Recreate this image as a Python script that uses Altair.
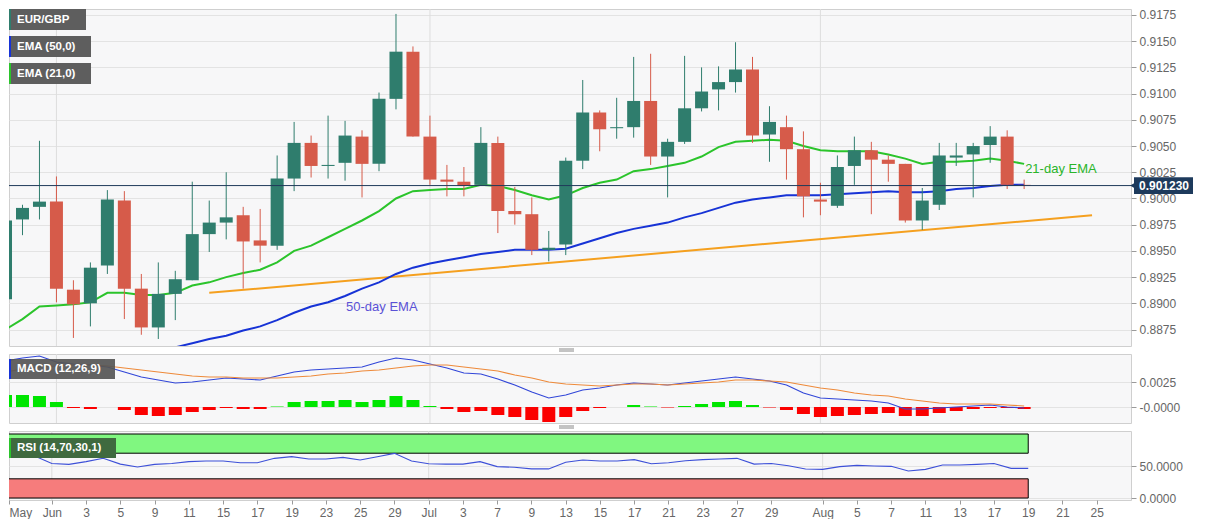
import altair as alt
import pandas as pd

# ---------------- data ----------------
dates = ["2020-05-27", "2020-05-28", "2020-05-29",
         "2020-06-01", "2020-06-02", "2020-06-03", "2020-06-04", "2020-06-05",
         "2020-06-08", "2020-06-09", "2020-06-10", "2020-06-11", "2020-06-12",
         "2020-06-15", "2020-06-16", "2020-06-17", "2020-06-18", "2020-06-19",
         "2020-06-22", "2020-06-23", "2020-06-24", "2020-06-25", "2020-06-26",
         "2020-06-29", "2020-06-30", "2020-07-01", "2020-07-02", "2020-07-03",
         "2020-07-06", "2020-07-07", "2020-07-08", "2020-07-09", "2020-07-10",
         "2020-07-13", "2020-07-14", "2020-07-15", "2020-07-16", "2020-07-17",
         "2020-07-20", "2020-07-21", "2020-07-22", "2020-07-23", "2020-07-24",
         "2020-07-27", "2020-07-28", "2020-07-29", "2020-07-30", "2020-07-31",
         "2020-08-03", "2020-08-04", "2020-08-05", "2020-08-06", "2020-08-07",
         "2020-08-10", "2020-08-11", "2020-08-12", "2020-08-13", "2020-08-14",
         "2020-08-17", "2020-08-18", "2020-08-19"]

opens = [0.8904, 0.8980, 0.8992, 0.8997, 0.8913, 0.8900, 0.8936, 0.8998, 0.8914, 0.8877,
         0.8909, 0.8922, 0.8966, 0.8977, 0.8984, 0.8960, 0.8955, 0.9019, 0.9053, 0.9031,
         0.9034, 0.9059, 0.9033, 0.9095, 0.9140, 0.9059, 0.9018, 0.9016, 0.9013, 0.9053,
         0.8988, 0.8985, 0.8951, 0.8956, 0.9036, 0.9082, 0.9067, 0.9068, 0.9093, 0.9040,
         0.9054, 0.9086, 0.9104, 0.9111, 0.9123, 0.9061, 0.9068, 0.9047, 0.8999, 0.8993,
         0.9031, 0.9046, 0.9037, 0.9033, 0.8979, 0.8994, 0.9039, 0.9042, 0.9051, 0.9059,
         0.9013]
highs = [0.8985, 0.8994, 0.9055, 0.9021, 0.8922, 0.8939, 0.9008, 0.9007, 0.8928, 0.8939,
         0.8931, 0.9016, 0.8998, 0.9025, 0.8992, 0.8990, 0.9041, 0.9073, 0.9060, 0.9079,
         0.9074, 0.9065, 0.9101, 0.9176, 0.9145, 0.9079, 0.9032, 0.9030, 0.9068, 0.9059,
         0.9011, 0.9001, 0.8969, 0.9039, 0.9113, 0.9084, 0.9096, 0.9135, 0.9138, 0.9057,
         0.9136, 0.9125, 0.9126, 0.9149, 0.9135, 0.9088, 0.9079, 0.9064, 0.9015, 0.9041,
         0.9059, 0.9054, 0.9041, 0.9033, 0.9010, 0.9053, 0.9053, 0.9053, 0.9069, 0.9065,
         0.9018]
lows = [0.8898, 0.8965, 0.8980, 0.8901, 0.8867, 0.8878, 0.8928, 0.8885, 0.8870, 0.8866,
        0.8884, 0.8922, 0.8949, 0.8961, 0.8914, 0.8939, 0.8951, 0.9007, 0.9020, 0.9019,
        0.9017, 0.9001, 0.9026, 0.9085, 0.9059, 0.9013, 0.9002, 0.9002, 0.9012, 0.8967,
        0.8975, 0.8946, 0.8940, 0.8946, 0.9028, 0.9045, 0.9057, 0.9058, 0.9032, 0.9001,
        0.9052, 0.9083, 0.9084, 0.9101, 0.9053, 0.9035, 0.9018, 0.8982, 0.8984, 0.8991,
        0.9013, 0.8985, 0.9016, 0.8977, 0.8970, 0.8989, 0.9031, 0.9001, 0.9034, 0.9009,
        0.9009]
closes = [0.8979, 0.8991, 0.8997, 0.8914, 0.8899, 0.8934, 0.8999, 0.8914, 0.8877, 0.8909,
          0.8923, 0.8966, 0.8977, 0.8982, 0.8959, 0.8955, 0.9019, 0.9053, 0.9031, 0.9032,
          0.9060, 0.9033, 0.9095, 0.9140, 0.9059, 0.9018, 0.9016, 0.9012, 0.9053, 0.8988,
          0.8985, 0.8951, 0.8953, 0.9036, 0.9082, 0.9066, 0.9068, 0.9093, 0.9040, 0.9054,
          0.9086, 0.9102, 0.9111, 0.9123, 0.9060, 0.9073, 0.9047, 0.9002, 0.8997, 0.9030,
          0.9046, 0.9037, 0.9033, 0.8979, 0.8998, 0.9041, 0.9041, 0.9050, 0.9059, 0.9013,
          0.90123]
ema21 = [0.8875, 0.8885, 0.8897, 0.8898, 0.8899, 0.8901, 0.8910, 0.8910, 0.8908, 0.8908,
         0.8910, 0.8917, 0.8920, 0.8925, 0.8929, 0.8932, 0.8939, 0.8950, 0.8955, 0.8963,
         0.8971, 0.8979, 0.8988, 0.9000, 0.9007, 0.9008, 0.9009, 0.9009, 0.9013, 0.9012,
         0.9008, 0.9003, 0.8999, 0.9003, 0.9010, 0.9015, 0.9018, 0.9026, 0.9028, 0.9031,
         0.9034, 0.9040, 0.9049, 0.9054, 0.9055, 0.9056, 0.9055, 0.9050, 0.9046, 0.9045,
         0.9045, 0.9045, 0.9042, 0.9038, 0.9033, 0.9035, 0.9035, 0.9036, 0.9038, 0.9036,
         0.9033]
ema50 = [None, None, None, None, None, None, None, None, None, 0.8854,
         0.8858, 0.8862, 0.8866, 0.8869, 0.8874, 0.8878, 0.8884, 0.8891, 0.8897, 0.8901,
         0.8907, 0.8914, 0.8920, 0.8928, 0.8934, 0.8938, 0.8941, 0.8944, 0.8947, 0.8949,
         0.8951, 0.8951, 0.8951, 0.8952, 0.8957, 0.8962, 0.8967, 0.8971, 0.8974, 0.8977,
         0.8982, 0.8986, 0.8991, 0.8996, 0.8999, 0.9001, 0.9003, 0.9003, 0.9003, 0.9004,
         0.9005, 0.9006, 0.9007, 0.9006, 0.9006, 0.9007, 0.9009, 0.9010, 0.9012, 0.9013,
         0.9013]
macd = [0.0046, 0.0049, 0.0051, 0.0045, 0.0043, 0.0042, 0.0040, 0.0035, 0.0030, 0.0027,
        0.0024, 0.0025, 0.0027, 0.0029, 0.0028, 0.0027, 0.0031, 0.0035, 0.0037, 0.0038,
        0.0039, 0.0040, 0.0045, 0.0049, 0.0047, 0.0043, 0.0039, 0.0034, 0.0033, 0.0028,
        0.0022, 0.0015, 0.0009, 0.0012, 0.0017, 0.0019, 0.0022, 0.0024, 0.0023, 0.0022,
        0.0024, 0.0026, 0.0028, 0.0030, 0.0028, 0.0026, 0.0022, 0.0014, 0.0009, 0.0008,
        0.0007, 0.0006, 0.0004, -0.0002, -0.0002, -0.0001, 0.0000, 0.0001, 0.0002, 0.0000,
        -0.0001]
signal = [0.0035, 0.0038, 0.0040, 0.0041, 0.0042, 0.0042, 0.0041, 0.0039, 0.0037, 0.0035,
          0.0033, 0.0031, 0.0030, 0.0030, 0.0029, 0.0029, 0.0029, 0.0030, 0.0031, 0.0033,
          0.0034, 0.0036, 0.0037, 0.0039, 0.0041, 0.0042, 0.0042, 0.0040, 0.0038, 0.0036,
          0.0032, 0.0029, 0.0025, 0.0023, 0.0022, 0.0021, 0.0022, 0.0023, 0.0023, 0.0022,
          0.0023, 0.0024, 0.0025, 0.0027, 0.0027, 0.0026, 0.0025, 0.0022, 0.0019, 0.0017,
          0.0014, 0.0012, 0.0011, 0.0008, 0.0006, 0.0004, 0.0003, 0.0003, 0.0003, 0.0002,
          0.0001]
hist = [0.0012, 0.0012, 0.0011, 0.0005, -0.0001, -0.0002, 0.0000, -0.0003, -0.0008, -0.0009,
        -0.0008, -0.0005, -0.0003, -0.0001, -0.0002, -0.0002, 0.00005, 0.0005, 0.0006, 0.0006,
        0.0007, 0.0005, 0.0007, 0.0011, 0.0007, 0.0001, -0.0002, -0.0005, -0.0004, -0.0008,
        -0.0010, -0.0013, -0.0015, -0.0010, -0.0004, -0.0001, 0.0000, 0.0002, 0.00005, -0.00005,
        0.0001, 0.0003, 0.0005, 0.0006, 0.0002, -0.00005, -0.0003, -0.0007, -0.0010, -0.0009,
        -0.0008, -0.0007, -0.0006, -0.0009, -0.0009, -0.0006, -0.0004, -0.0002, -0.0001, -0.0001,
        -0.0002]
rsi = [63.0, 65.0, 65.6, 54.0, 52.6, 56.8, 62.0, 53.0, 48.4, 52.6,
       54.0, 56.8, 57.8, 57.8, 55.0, 55.0, 62.0, 64.6, 61.0, 61.0,
       63.5, 59.4, 64.6, 69.8, 57.8, 53.6, 53.0, 53.0, 56.8, 49.0,
       48.0, 45.5, 45.5, 55.8, 59.4, 57.8, 57.8, 60.0, 53.6, 55.0,
       58.3, 60.0, 61.0, 62.0, 53.0, 54.0, 50.3, 45.4, 44.8, 49.0,
       51.0, 50.0, 49.5, 42.2, 44.8, 51.6, 51.6, 52.6, 54.0, 46.3,
       46.3]

# trend line (trading-day index, price)
trend_i = [9, 61]
trend_p = [0.8910, 0.8984]

# annotations
ann_text = ["50-day EMA", "21-day EMA"]
ann_i = [17, 57]
ann_p = [0.88967, 0.90278]
ann_colors = ["#5b52d6", "#2ab52a"]

last_price = [0.90123]
month_idx = [0, 22, 45]

price_ticks = [0.8875, 0.8900, 0.8925, 0.8950, 0.8975, 0.9000, 0.9025, 0.9050,
               0.9075, 0.9100, 0.9125, 0.9150, 0.9175]
macd_ticks = [0.0, 0.0025]
rsi_ticks = [0, 50]

tick_pos = [-2.5, 0, 2, 4, 6, 8, 10, 12, 14, 16, 18, 20, 22, 24, 26, 28, 30, 32, 34,
            36, 38, 40, 42, 45, 47, 49, 51, 53, 55, 57, 59, 61]
tick_text = ["May", "Jun", "3", "5", "9", "11", "15", "17", "19", "23", "25", "29",
             "Jul", "3", "7", "9", "13", "15", "17", "21", "23", "27", "29",
             "Aug", "5", "7", "11", "13", "17", "19", "21", "25"]

rsi_bands_lo = [70, 0]
rsi_bands_hi = [100, 30]
rsi_band_colors = ["#80f780", "#f67c7c"]
band_start = -3
band_end = 57

# ---------------- build ----------------
idx = [k - 3 for k in range(len(dates))]
df = pd.DataFrame({"i": idx, "date": dates, "open": opens, "high": highs, "low": lows,
                   "close": closes, "ema21": ema21, "ema50": ema50, "macd": macd,
                   "signal": signal, "hist": hist, "rsi": rsi})

GREEN = "#2f7d6d"
RED = "#d65b4a"
FONT = "Arial"
W = 1122

xs = alt.Scale(domain=[-2.5, 63], nice=False, zero=False)
X = alt.X("i:Q", scale=xs, axis=None)

# ---- price panel ----
ps = alt.Scale(domain=[0.88593, 0.91807], nice=False, zero=False)
pax = alt.Axis(orient="right", values=price_ticks, format=".4f", grid=True, title=None,
               tickSize=5, labelPadding=3)

def PY(field):
    return alt.Y(field, scale=ps, axis=pax)

months = pd.DataFrame({"i": month_idx})
month_rule_p = alt.Chart(months).mark_rule(color="#dddddd", strokeWidth=1).encode(x=X)

trend = alt.Chart(pd.DataFrame({"i": trend_i, "p": trend_p})).mark_line(
    color="#f5a01f", strokeWidth=2, clip=True).encode(x=X, y=PY("p:Q"))

e50 = alt.Chart(df).mark_line(color="#1733d6", strokeWidth=2, clip=True).encode(
    x=X, y=PY("ema50:Q"))
e21 = alt.Chart(df).mark_line(color="#2bc42b", strokeWidth=2, clip=True).encode(
    x=X, y=PY("ema21:Q"))

candle_color = alt.condition("datum.close >= datum.open", alt.value(GREEN), alt.value(RED))
wicks = alt.Chart(df).mark_rule(strokeWidth=1, clip=True).encode(
    x=X, y=PY("low:Q"), y2="high:Q", color=candle_color)
bodies = alt.Chart(df).mark_bar(size=13, clip=True).encode(
    x=X, y=PY("open:Q"), y2="close:Q", color=candle_color)

lp = pd.DataFrame({"p": last_price})
last_rule = alt.Chart(lp).mark_rule(color="#1f3a5a", strokeWidth=1).encode(y=PY("p:Q"))
tag_box = alt.Chart(lp).transform_calculate(
    top="datum.p + 0.0008", bot="datum.p - 0.0008").mark_rect(color="#1d3a5c").encode(
    x=alt.value(W + 3), x2=alt.value(W + 62), y=PY("top:Q"), y2="bot:Q")
tag_tri = alt.Chart(lp).mark_point(shape="triangle-left", filled=True, size=45,
                                   color="#1d3a5c", opacity=1).encode(
    x=alt.value(W + 2), y=PY("p:Q"))
tag_txt = alt.Chart(lp).mark_text(color="white", fontWeight="bold", fontSize=12,
                                  font=FONT).encode(
    x=alt.value(W + 33), y=PY("p:Q"), text=alt.Text("p:Q", format=".6f"))

ann = alt.Chart(pd.DataFrame({"t": ann_text, "i": ann_i, "p": ann_p})).mark_text(
    align="left", baseline="middle", fontSize=13, font=FONT, dx=1).encode(
    x=X, y=PY("p:Q"), text="t:N",
    color=alt.Color("t:N", scale=alt.Scale(domain=ann_text, range=ann_colors), legend=None))

dummy = pd.DataFrame({"a": [0]})

def label_box(text, stripe, x0, x1, y0, y1, fill="#5e5e5e", opacity=1.0):
    box = alt.Chart(dummy).mark_rect(color=fill, opacity=opacity).encode(
        x=alt.value(x0), x2=alt.value(x1), y=alt.value(y0), y2=alt.value(y1))
    st = alt.Chart(dummy).mark_rect(color=stripe).encode(
        x=alt.value(x0), x2=alt.value(x0 + 2), y=alt.value(y0), y2=alt.value(y1))
    tx = alt.Chart(dummy).mark_text(color="white", fontWeight="bold", fontSize=11.5,
                                    font=FONT, align="left", baseline="middle").encode(
        x=alt.value(x0 + 8), y=alt.value((y0 + y1) / 2), text=alt.value(text))
    return [box, st, tx]

legend_layers = (label_box("EUR/GBP", GREEN, 0, 77, 0, 21)
                 + label_box("EMA (50,0)", "#1733d6", 0, 82, 27, 48)
                 + label_box("EMA (21,0)", "#2bc42b", 0, 82, 54, 75))

price = alt.layer(month_rule_p, trend, e50, e21, wicks, bodies, last_rule, ann,
                  tag_box, tag_tri, tag_txt, *legend_layers).properties(width=W, height=337)

# ---- MACD panel ----
ms = alt.Scale(domain=[-0.0016, 0.0053], nice=False, zero=False)
max_ = alt.Axis(orient="right", values=macd_ticks, grid=True, title=None, tickSize=5,
                labelPadding=3,
                labelExpr="datum.value == 0 ? '-0.0000' : format(datum.value, '.4f')")

def MY(field):
    return alt.Y(field, scale=ms, axis=max_)

month_rule_m = alt.Chart(months).mark_rule(color="#dddddd", strokeWidth=1).encode(x=X)
hbars = alt.Chart(df).mark_bar(size=13, clip=True).encode(
    x=X, y=MY("hist:Q"), y2=alt.datum(0),
    color=alt.condition("datum.hist >= 0", alt.value("#00e600"), alt.value("#fb0000")))
mline = alt.Chart(df).mark_line(color="#3146d8", strokeWidth=1.2, clip=True).encode(
    x=X, y=MY("macd:Q"))
sline = alt.Chart(df).mark_line(color="#ee8a3a", strokeWidth=1.2, clip=True).encode(
    x=X, y=MY("signal:Q"))
handle_m = [alt.Chart(dummy).mark_rule(color="#888888", strokeWidth=1).encode(
    x=alt.value(550), x2=alt.value(565), y=alt.value(v)) for v in (-5, -3)]
macd_panel = alt.layer(month_rule_m, hbars, mline, sline,
                       *label_box("MACD (12,26,9)", "#1733d6", 0, 106, 5, 25,
                                  fill="#555555", opacity=0.92),
                       *handle_m).properties(width=W, height=69)

# ---- RSI panel ----
rs = alt.Scale(domain=[-3.1, 104.7], nice=False, zero=False)
label_expr = ("{" + ",".join("'%s':'%s'" % (str(p), t) for p, t in zip(tick_pos, tick_text))
              + "}[toString(datum.value)]")
xax = alt.Axis(values=tick_pos, labelExpr=label_expr, grid=False, title=None,
               tickSize=4, labelPadding=3, labelOverlap=False, labelFlush=True)
rax = alt.Axis(orient="right", values=rsi_ticks, format=".4f", grid=True, title=None,
               tickSize=5, labelPadding=3)

def RY(field):
    return alt.Y(field, scale=rs, axis=rax)

XR = alt.X("i:Q", scale=xs, axis=xax)
month_rule_r = alt.Chart(months).mark_rule(color="#dddddd", strokeWidth=1).encode(x=XR)
bands = alt.Chart(pd.DataFrame({"lo": rsi_bands_lo, "hi": rsi_bands_hi,
                                "c": rsi_band_colors, "x0": [band_start] * 2,
                                "x1": [band_end] * 2})).mark_rect(
    stroke="black", strokeWidth=1, clip=True).encode(
    x=alt.X("x0:Q", scale=xs, axis=xax), x2="x1:Q", y=RY("lo:Q"), y2="hi:Q",
    color=alt.Color("c:N", scale=None))
rline = alt.Chart(df).mark_line(color="#3d50d8", strokeWidth=1.1, clip=True).encode(
    x=XR, y=RY("rsi:Q"))
handle_r = [alt.Chart(dummy).mark_rule(color="#888888", strokeWidth=1).encode(
    x=alt.value(550), x2=alt.value(565), y=alt.value(v)) for v in (-5, -3)]
rsi_panel = alt.layer(month_rule_r, bands, rline,
                      *label_box("RSI (14,70,30,1)", "#2bc42b", 0, 107, 7, 27,
                                 fill="#3f6a3f", opacity=1.0),
                      *handle_r).properties(width=W, height=69)

chart = alt.vconcat(price, macd_panel, rsi_panel, spacing=8, bounds="flush").properties(
    padding={"left": 0, "top": 0, "right": 0, "bottom": 0},
    background="white",
).configure(font=FONT).configure_view(
    stroke="#cfcfcf", fill="#f7f7f8"
).configure_axis(
    labelColor="#666666", labelFontSize=12, labelFont=FONT, tickColor="#9a9a9a",
    domain=False, gridColor="#e3e3e3"
)

chart.save("out.html", embed_options={"renderer": "svg", "actions": False})
